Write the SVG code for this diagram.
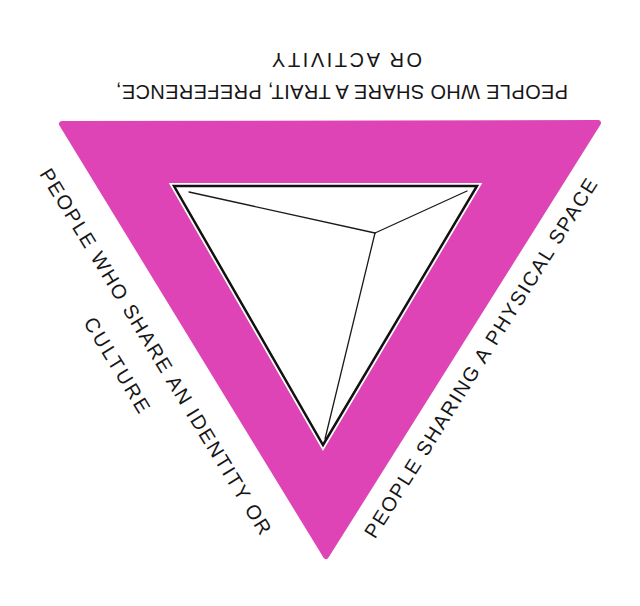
<svg xmlns="http://www.w3.org/2000/svg" width="640" height="606" viewBox="0 0 640 606">
  <style>
    .lbl { font-family: "Liberation Sans", "DejaVu Sans", sans-serif; font-size: 20px; fill: #161616; }
    .band { fill: #DE44B6; stroke: #DE44B6; stroke-width: 6; stroke-linejoin: round; }
    .gap { fill: #ffffff; stroke: #ffffff; stroke-width: 6; stroke-linejoin: miter; }
    .outline { fill: #ffffff; stroke: #111111; stroke-width: 2.5; stroke-linejoin: miter; }
    .edge { stroke: #1a1a1a; stroke-width: 1.3; fill: none; stroke-linecap: round; }
  </style>
  <rect width="640" height="606" fill="#ffffff"/>
  <g id="triangle">
    <polygon class="band" points="62,124 598,123 326,556"/>
    <polygon class="gap" points="174,186 477,186 323,445"/>
    <polygon class="outline" points="174,186 477,186 323,445"/>
  </g>
  <g id="connectors">
    <line class="edge" x1="375" y1="233" x2="189" y2="192"/>
    <line class="edge" x1="375" y1="233" x2="467" y2="191"/>
    <line class="edge" x1="375" y1="233" x2="325" y2="439"/>
  </g>
  <g id="label-top">
    <text class="lbl" transform="translate(568,85) rotate(180)" x="0" y="0" textLength="452" lengthAdjust="spacing">PEOPLE WHO SHARE A TRAIT, PREFERENCE,</text>
    <text class="lbl" transform="translate(422,53) rotate(180)" x="0" y="0" textLength="150" lengthAdjust="spacing">OR ACTIVITY</text>
  </g>
  <g id="label-left">
    <text class="lbl" transform="translate(45,170) rotate(58.6)" x="0" y="7" textLength="425" lengthAdjust="spacing">PEOPLE WHO SHARE AN IDENTITY OR</text>
    <text class="lbl" transform="translate(45,170) rotate(58.6)" x="150" y="47" textLength="108" lengthAdjust="spacing">CULTURE</text>
  </g>
  <g id="label-right">
    <text class="lbl" transform="translate(369,536) rotate(-57.9)" x="0" y="7" textLength="420" lengthAdjust="spacing">PEOPLE SHARING A PHYSICAL SPACE</text>
  </g>
</svg>
